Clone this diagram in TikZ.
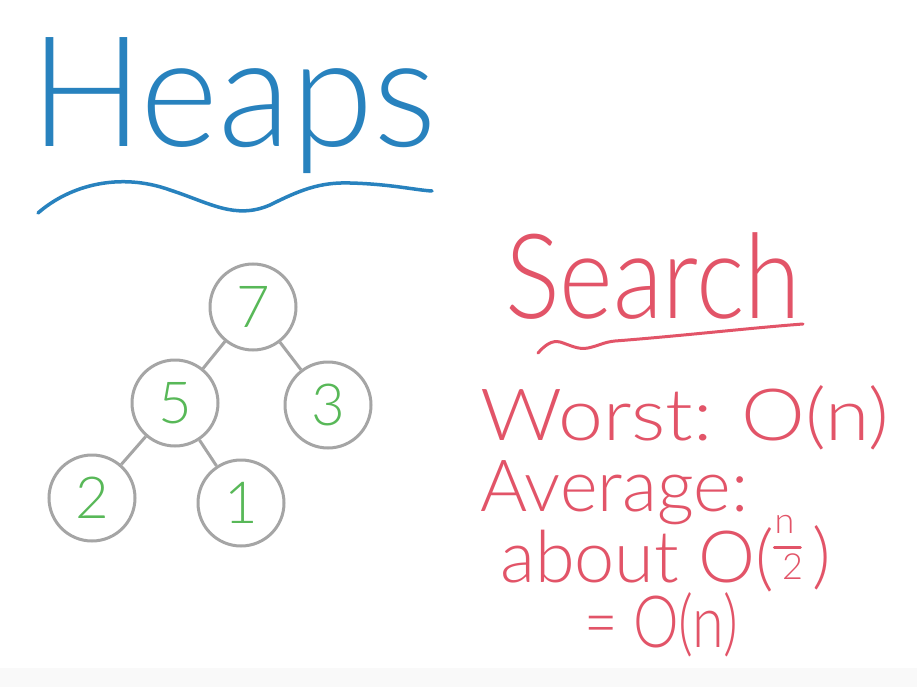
\documentclass[tikz,border=0pt]{standalone}
\usepackage{fontspec}
\usetikzlibrary{calc}
\IfFontExistsTF{Lato Light}{\newfontfamily\hand{Lato Light}}{\newfontfamily\hand{Lato}}
\definecolor{inkblue}{RGB}{40,130,190}
\definecolor{inkred}{RGB}{226,84,104}
\definecolor{inkgreen}{RGB}{88,184,88}
\definecolor{ringgray}{RGB}{165,165,165}
\definecolor{stripgray}{RGB}{249,249,249}
\tikzset{
  treenode/.style={circle, draw=ringgray, line width=3pt, minimum size=86pt, inner sep=0pt,
    text=inkgreen, font=\hand\fontsize{58}{58}\selectfont},
  treeedge/.style={draw=ringgray, line width=3pt},
  bluetext/.style={text=inkblue, inner sep=0pt, anchor=base west},
  redtext/.style={text=inkred, inner sep=0pt, anchor=base west, font=\hand\fontsize{72}{72}\selectfont},
  fractext/.style={text=inkred, inner sep=0pt, anchor=base, font=\hand\fontsize{36}{36}\selectfont},
  blueink/.style={draw=inkblue, line width=3.5pt, line cap=round},
  redink/.style={draw=inkred, line width=3pt, line cap=round}
}
\begin{document}
\begin{tikzpicture}[x=1pt,y=-1pt]
\useasboundingbox (0,0) rectangle (917,687);
\fill[white] (0,0) rectangle (917,687);
\fill[stripgray] (0,668) rectangle (917,687);
% title
\node[bluetext, font=\hand\fontsize{154}{154}\selectfont, xscale=0.97] (title) at (30,147) {Heaps};
\draw[blueink] (38,213) .. controls (70,185) and (120,172) .. (170,190)
  .. controls (210,203) and (235,220) .. (270,205)
  .. controls (300,190) and (320,182) .. (350,183)
  .. controls (390,184) and (415,190) .. (432,191);
% tree
\node[treenode] (n7) at (253,307) {7};
\node[treenode] (n5) at (175,403) {5};
\node[treenode] (n3) at (328,405) {3};
\node[treenode] (n2) at (92,498) {2};
\node[treenode] (n1) at (241,503) {1};
\draw[treeedge] (n7) -- (n5);
\draw[treeedge] (n7) -- (n3);
\draw[treeedge] (n5) -- (n2);
\draw[treeedge] (n5) -- (n1);
% search
\node[redtext, font=\hand\fontsize{118}{118}\selectfont, xscale=0.87] (search) at (505,318) {Search};
\draw[redink] (538,353) .. controls (545,345) and (552,340) .. (560,342)
  .. controls (570,345) and (578,350) .. (588,348)
  .. controls (598,346) and (604,342) .. (615,341)
  .. controls (680,336) and (750,328) .. (803,324);
\node[redtext, xscale=1.12] (worst) at (480,440) {Worst: O(n)};
\node[redtext] (average) at (480,511) {Average:};
\node[redtext] (about) at (500,582) {about O(};
\coordinate (fracorigin) at (about.base east);
\node[fractext] (fracn) at ($(fracorigin)+(10,-49)$) {n};
\coordinate (barl) at ($(fracorigin)+(0,-35)$);
\coordinate (barr) at ($(fracorigin)+(26,-35)$);
\draw[redink] (barl) -- (barr);
\node[fractext] (fractwo) at ($(fracorigin)+(18,-3)$) {2};
\node[redtext] (closep) at ($(fracorigin)+(38,-2)$) {)};
\node[redtext, xscale=0.8] (equals) at (584,647) {= O(n)};
\end{tikzpicture}
\end{document}
